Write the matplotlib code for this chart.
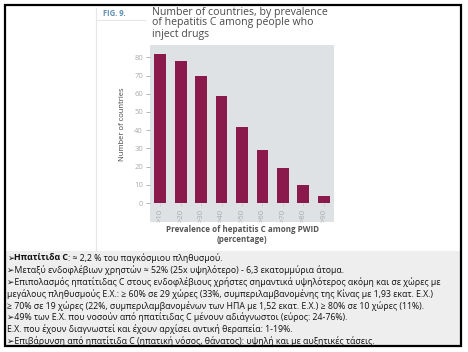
import matplotlib
matplotlib.use("Agg")
import matplotlib.pyplot as plt
from matplotlib.patches import Rectangle

categories = [">10", ">20", ">30", ">40", ">50", ">60", ">70", ">80", ">90"]
counts = [82, 78, 70, 59, 42, 29, 19, 10, 4]
yticks = [0, 10, 20, 30, 40, 50, 60, 70, 80]

W, H = 468, 352
fig = plt.figure(figsize=(W / 100, H / 100), dpi=100)
fig.patch.set_facecolor("white")

FAM = ["Open Sans", "DejaVu Sans"]

def fx(px):
    return px / W

def fy(py):
    return 1 - py / H

# grey background behind plot incl. tick label area
fig.patches.append(Rectangle((fx(150), fy(222)), fx(334) - fx(150), fy(45) - fy(222),
                             transform=fig.transFigure, facecolor="#DFE2E5",
                             edgecolor="none", zorder=-2))

ax = fig.add_axes([fx(150), fy(203), fx(334) - fx(150), fy(45) - fy(203)])
ax.set_zorder(2)
ax.patch.set_alpha(0)
ax.bar(range(len(categories)), counts, width=0.58, color="#8A1A4B", zorder=3)
ax.set_xlim(-0.5, len(categories) - 0.5)
ax.set_ylim(0, 86.8)
ax.set_yticks(yticks)
ax.set_yticklabels([str(v) for v in yticks], fontsize=5.5, color="#A8ABAE", family=FAM)
ax.set_xticks(range(len(categories)))
ax.set_xticklabels(categories, rotation=90, fontsize=5.5, color="#A8ABAE", family=FAM)
for s in ax.spines.values():
    s.set_visible(False)
ax.tick_params(axis="y", length=3, color="#A8ABAE", width=0.6, pad=2)
ax.tick_params(axis="x", length=2, color="#C8CBCE", width=0.6, pad=2)
ax.set_ylabel("Number of countries", fontsize=5.5, color="#444444", family=FAM, labelpad=6)

# thin divider lines of the figure image
fig.add_artist(plt.Line2D([fx(96), fx(96)], [fy(8), fy(250)], color="#E4E6E8", lw=0.8))
fig.add_artist(plt.Line2D([fx(97), fx(145)], [fy(20), fy(20)], color="#E4E6E8", lw=0.8))

fig.text(fx(103), fy(14), "FIG. 9.", fontsize=5.5, color="#5F8FB5", weight="bold",
         family=FAM, va="center", ha="left")
fig.text(fx(152), fy(6.5), "Number of countries, by prevalence\nof hepatitis C among people who\ninject drugs",
         fontsize=7.6, color="#4A4A4A", family=FAM, va="top", ha="left", linespacing=1.0)

fig.text(fx(242), fy(229), "Prevalence of hepatitis C among PWID", fontsize=5.8,
         color="#555555", weight="bold", family=FAM, ha="center", va="center")
fig.text(fx(242), fy(240), "(percentage)", fontsize=5.8,
         color="#555555", weight="bold", family=FAM, ha="center", va="center")

# text box
fig.patches.append(Rectangle((fx(5), fy(346)), fx(461) - fx(5), fy(251) - fy(346),
                             transform=fig.transFigure, facecolor="#EEEEEE",
                             edgecolor="none", zorder=-2))
# outer frame
fig.patches.append(Rectangle((fx(5), fy(346)), fx(461) - fx(5), fy(4.5) - fy(346),
                             transform=fig.transFigure, facecolor="none",
                             edgecolor="black", lw=1.6, zorder=5))

FS = 6.3
lines = [
    "➢Μεταξύ ενδοφλέβιων χρηστών ≈ 52% (25x υψηλότερο) - 6,3 εκατομμύρια άτομα.",
    "➢Επιπολασμός ηπατίτιδας C στους ενδοφλέβιους χρήστες σημαντικά υψηλότερος ακόμη και σε χώρες με",
    "μεγάλους πληθυσμούς Ε.Χ.: ≥ 60% σε 29 χώρες (33%, συμπεριλαμβανομένης της Κίνας με 1,93 εκατ. Ε.Χ.)",
    "≥ 70% σε 19 χώρες (22%, συμπεριλαμβανομένων των ΗΠΑ με 1,52 εκατ. Ε.Χ.) ≥ 80% σε 10 χώρες (11%).",
    "➢49% των Ε.Χ. που νοσούν από ηπατίτιδας C μένουν αδιάγνωστοι (εύρος: 24-76%).",
    "Ε.Χ. που έχουν διαγνωστεί και έχουν αρχίσει αντική θεραπεία: 1-19%.",
    "➢Επιβάρυνση από ηπατίτιδα C (ηπατική νόσος, θάνατος): υψηλή και με αυξητικές τάσεις.",
]

x0 = fx(7)
y_first = 258
step = 11.9
fig.canvas.draw()
r = fig.canvas.get_renderer()
t1 = fig.text(x0, fy(y_first), "➢", fontsize=FS, family=FAM, color="#111111", va="center")
bb = t1.get_window_extent(r)
t2 = fig.text(bb.x1 / W, fy(y_first), "Ηπατίτιδα C", fontsize=FS, family=FAM,
              weight="bold", color="#111111", va="center")
bb2 = t2.get_window_extent(r)
fig.text(bb2.x1 / W, fy(y_first), ": ≈ 2,2 % του παγκόσμιου πληθυσμού.", fontsize=FS,
         family=FAM, color="#111111", va="center")
for i, ln in enumerate(lines):
    fig.text(x0, fy(y_first + step * (i + 1)), ln, fontsize=FS, family=FAM,
             color="#111111", va="center")

fig.savefig("out.png", dpi=100)
